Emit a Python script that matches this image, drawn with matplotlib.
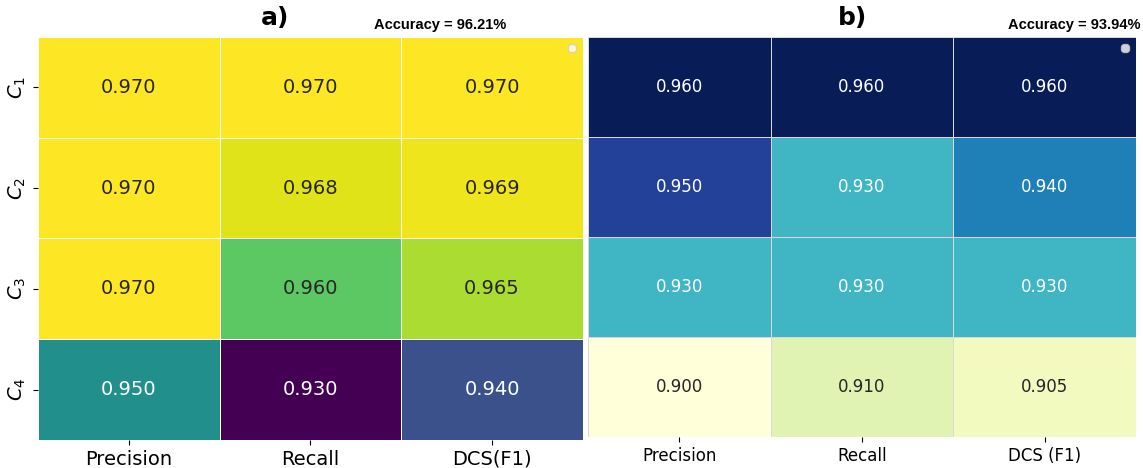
import numpy as np
import matplotlib.pyplot as plt
import seaborn as sns

metrics_a = ["Precision", "Recall", "DCS(F1)"]
metrics_b = ["Precision", "Recall", "DCS (F1)"]
classes = ["$C_1$", "$C_2$", "$C_3$", "$C_4$"]

scores_a = np.array([
    [0.970, 0.970, 0.970],
    [0.970, 0.968, 0.969],
    [0.970, 0.960, 0.965],
    [0.950, 0.930, 0.940],
])
scores_b = np.array([
    [0.960, 0.960, 0.960],
    [0.950, 0.930, 0.940],
    [0.930, 0.930, 0.930],
    [0.900, 0.910, 0.905],
])
acc_a = 96.21
acc_b = 93.94

fig = plt.figure(figsize=(11.43, 4.68), dpi=100)
ax1 = fig.add_axes([0.0332, 0.0598, 0.4768, 0.8612])
ax2 = fig.add_axes([0.5144, 0.066, 0.4795, 0.855])

sns.heatmap(scores_a, ax=ax1, cmap="viridis", annot=True, fmt=".3f", cbar=False,
            linewidths=0.6, linecolor="white", annot_kws={"size": 14},
            xticklabels=metrics_a, yticklabels=classes)
ax1.tick_params(axis="x", labelsize=14)
ax1.tick_params(axis="y", labelsize=14, rotation=90)
ax1.legend(handles=[], loc="upper right", borderpad=0.3)

sns.heatmap(scores_b, ax=ax2, cmap="YlGnBu", annot=True, fmt=".3f", cbar=False,
            linewidths=0.6, linecolor="#d8d8d8", annot_kws={"size": 12},
            xticklabels=metrics_b, yticklabels=False)
ax2.tick_params(axis="x", labelsize=12)
ax2.legend(handles=[], loc="upper right", borderpad=0.3)

# panel titles and accuracy notes
fig.text(275 / 1143, 1 - 18 / 468, "a)", ha="center", va="center",
         fontsize=18, fontweight="bold")
fig.text(852 / 1143, 1 - 18 / 468, "b)", ha="center", va="center",
         fontsize=18, fontweight="bold")
acc_font = ["Liberation Sans", "DejaVu Sans"]
fig.text(506 / 1143, 1 - 29 / 468, f"Accuracy = {acc_a:.2f}%", ha="right",
         va="baseline", fontsize=10.5, fontweight="bold", family=acc_font)
fig.text(1140 / 1143, 1 - 29 / 468, f"Accuracy = {acc_b:.2f}%", ha="right",
         va="baseline", fontsize=10.5, fontweight="bold", family=acc_font)

fig.savefig("out.png", dpi=100)
